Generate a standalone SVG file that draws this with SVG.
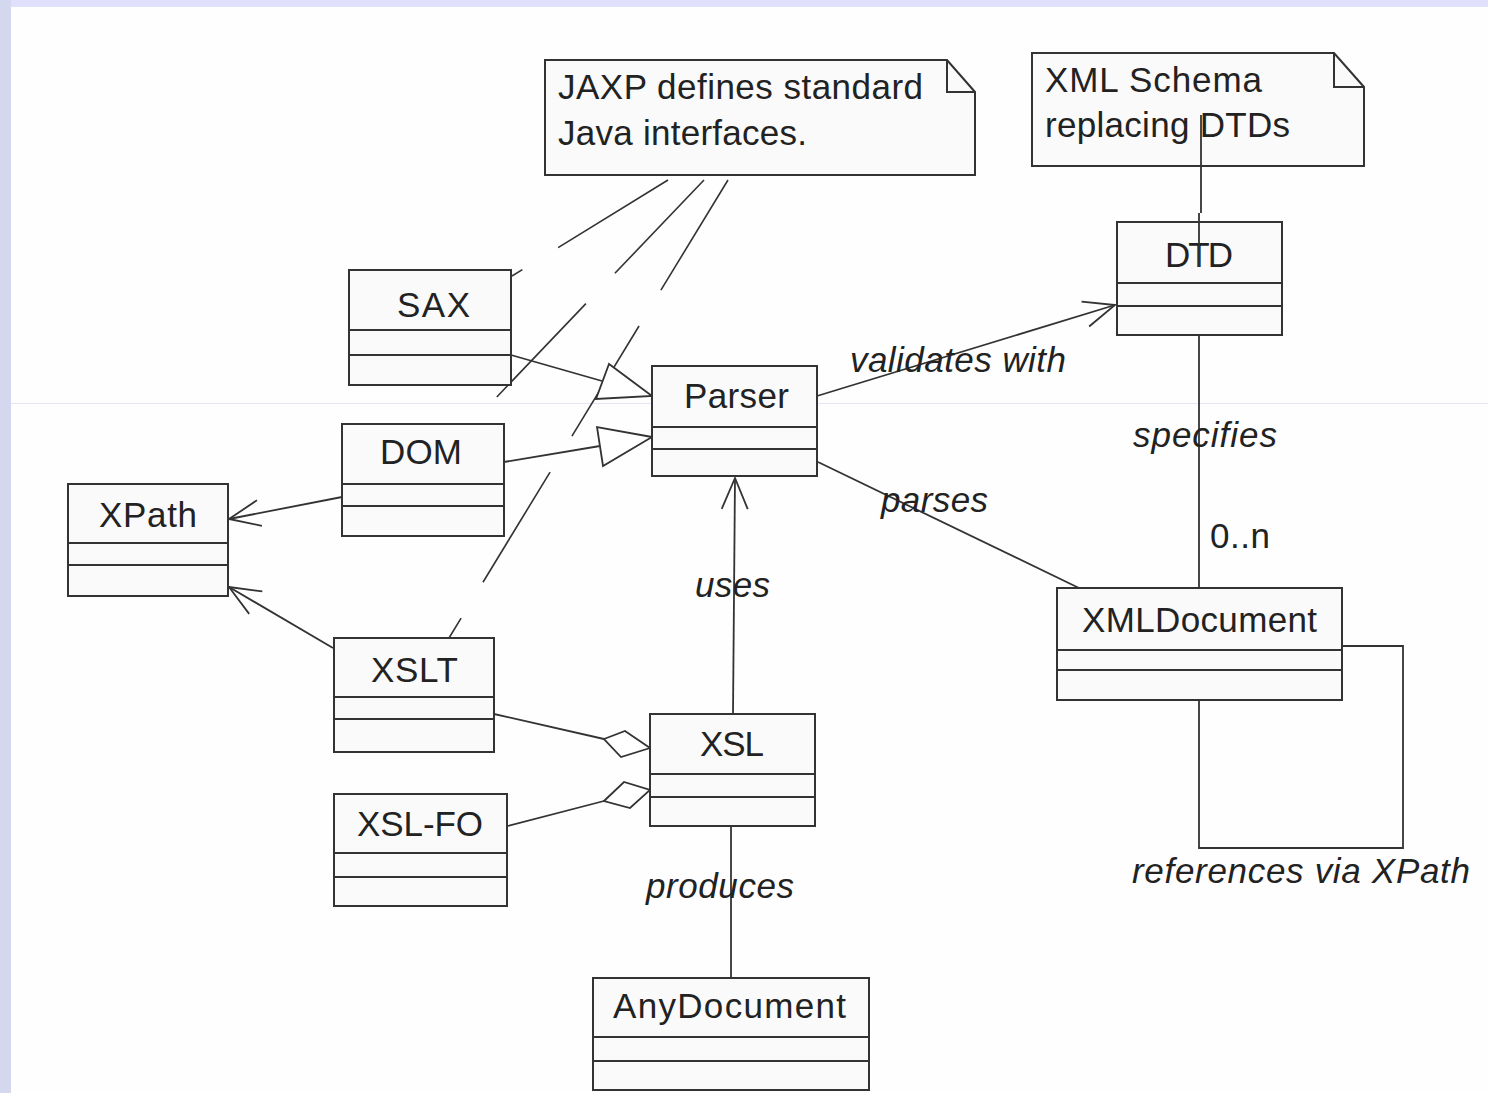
<svg xmlns="http://www.w3.org/2000/svg" width="1488" height="1093" viewBox="0 0 1488 1093">
  <style>
    .cls { fill: #fafafa; stroke: #333; stroke-width: 2; }
    .div { fill: none; stroke: #333; stroke-width: 2; }
    .note { fill: #fafafa; stroke: #333; stroke-width: 2; }
    .name { font-family: "Liberation Sans", Arial, sans-serif; font-size: 35px; fill: #222; }
    .lbl { font-family: "Liberation Sans", Arial, sans-serif; font-size: 35px; font-style: italic; fill: #222; }
    .mult { font-family: "Liberation Sans", Arial, sans-serif; font-size: 35px; fill: #222; }
    .ln { fill: none; stroke: #333; stroke-width: 1.8; }
    .anchor { fill: none; stroke: #333; stroke-width: 1.6; stroke-dasharray: 129 42; }
    .tri { fill: #fff; stroke: #333; stroke-width: 1.8; }
    .dia { fill: #fff; stroke: #333; stroke-width: 1.8; }
  </style>
  <defs>
    <marker id="open" markerUnits="userSpaceOnUse" viewBox="-36 -18 40 36" markerWidth="40" markerHeight="36" refX="0" refY="0" orient="auto">
      <path d="M -31 -13 L 0 0 L -31 13" fill="none" stroke="#333" stroke-width="1.8"/>
    </marker>
  </defs>

  <!-- page background with framed edges -->
  <rect x="0" y="0" width="1488" height="1093" fill="#fefefe"/>
  <rect x="0" y="0" width="1488" height="7" fill="#e0e0fd"/>
  <rect x="0" y="0" width="11" height="1093" fill="#d3d8ef"/>
  <line x1="11" y1="403.5" x2="1488" y2="403.5" stroke="#e6e6f2" stroke-width="1"/>

  <!-- connectors -->
  <g id="connectors">
    <!-- note anchors -->
    <line class="anchor" x1="668" y1="180" x2="512" y2="276"/>
    <line class="anchor" x1="704" y1="180" x2="471" y2="424"/>
    <line class="anchor" x1="728" y1="180" x2="449" y2="638"/>
    <path class="ln" d="M1201 115 V213 M1199 213 V267"/>

    <!-- generalizations into Parser -->
    <line class="ln" x1="511" y1="355" x2="602" y2="381"/>
    <polygon class="tri" points="652,396 609,364 596,399"/>
    <line class="ln" x1="504" y1="462" x2="600" y2="446"/>
    <polygon class="tri" points="652,437 597,427 603,466"/>

    <!-- navigable associations -->
    <line class="ln" x1="342" y1="497" x2="229" y2="519" marker-end="url(#open)"/>
    <line class="ln" x1="333" y1="648" x2="229" y2="587" marker-end="url(#open)"/>
    <line class="ln" x1="817" y1="396" x2="1115" y2="305" marker-end="url(#open)"/>
    <line class="ln" x1="733" y1="714" x2="735" y2="478" marker-end="url(#open)"/>

    <!-- plain associations -->
    <line class="ln" x1="818" y1="462" x2="1079" y2="588"/>
    <line class="ln" x1="1199" y1="335" x2="1199" y2="588"/>
    <path class="ln" d="M1342 646 H1403 V848 H1199 V700"/>
    <line class="ln" x1="731" y1="826" x2="731" y2="978"/>

    <!-- aggregations into XSL -->
    <line class="ln" x1="494" y1="714" x2="604" y2="739"/>
    <polygon class="dia" points="604,739 625,731 650,748 621,757"/>
    <line class="ln" x1="508" y1="826" x2="604" y2="801"/>
    <polygon class="dia" points="604,801 624,782 650,790 630,808"/>

    <!-- association labels -->
    <text class="lbl" x="850" y="372" textLength="216">validates with</text>
    <text class="lbl" x="881" y="512" textLength="107">parses</text>
    <text class="lbl" x="1133" y="447" textLength="144">specifies</text>
    <text class="mult" x="1210" y="548" textLength="60">0..n</text>
    <text class="lbl" x="695" y="597" textLength="75">uses</text>
    <text class="lbl" x="646" y="898" textLength="148">produces</text>
    <text class="lbl" x="1132" y="883" textLength="338">references via XPath</text>
  </g>

  <!-- notes -->
  <g id="note-jaxp">
    <path class="note" d="M545 60 H947 L975 92 V175 H545 Z"/>
    <path class="div" d="M947 60 V92 H975"/>
    <text class="name" x="558" y="99" textLength="365">JAXP defines standard</text>
    <text class="name" x="558" y="145" textLength="249">Java interfaces.</text>
  </g>
  <g id="note-schema">
    <path class="note" d="M1032 53 H1334 L1364 87 V166 H1032 Z"/>
    <path class="div" d="M1334 53 V87 H1364"/>
    <text class="name" x="1045" y="92" textLength="217">XML Schema</text>
    <text class="name" x="1045" y="137" textLength="245">replacing DTDs</text>
  </g>
  <!-- the anchor line runs over the note text -->
  <line class="ln" x1="1201" y1="115" x2="1201" y2="166"/>

  <!-- classes -->
  <g id="sax">
    <rect class="cls" x="349" y="270" width="162" height="115"/>
    <path class="div" d="M349 330 H511 M349 355 H511"/>
    <text class="name" x="397" y="317" textLength="73">SAX</text>
  </g>
  <g id="dom">
    <rect class="cls" x="342" y="424" width="162" height="112"/>
    <path class="div" d="M342 484 H504 M342 506 H504"/>
    <text class="name" x="380" y="464" textLength="82">DOM</text>
  </g>
  <g id="xpath">
    <rect class="cls" x="68" y="484" width="160" height="112"/>
    <path class="div" d="M68 543 H228 M68 565 H228"/>
    <text class="name" x="99" y="527" textLength="98">XPath</text>
  </g>
  <g id="xslt">
    <rect class="cls" x="334" y="638" width="160" height="114"/>
    <path class="div" d="M334 697 H494 M334 719 H494"/>
    <text class="name" x="371" y="682" textLength="87">XSLT</text>
  </g>
  <g id="parser">
    <rect class="cls" x="652" y="366" width="165" height="110"/>
    <path class="div" d="M652 427 H817 M652 449 H817"/>
    <text class="name" x="684" y="408" textLength="105">Parser</text>
  </g>
  <g id="dtd">
    <rect class="cls" x="1117" y="222" width="165" height="113"/>
    <path class="div" d="M1117 283 H1282 M1117 306 H1282"/>
    <text class="name" x="1165" y="267" textLength="68">DTD</text>
  </g>
  <g id="xmldocument">
    <rect class="cls" x="1057" y="588" width="285" height="112"/>
    <path class="div" d="M1057 650 H1342 M1057 670 H1342"/>
    <text class="name" x="1082" y="632" textLength="235">XMLDocument</text>
  </g>
  <g id="xsl">
    <rect class="cls" x="650" y="714" width="165" height="112"/>
    <path class="div" d="M650 774 H815 M650 797 H815"/>
    <text class="name" x="700" y="756" textLength="64">XSL</text>
  </g>
  <g id="xsl-fo">
    <rect class="cls" x="334" y="794" width="173" height="112"/>
    <path class="div" d="M334 853 H507 M334 877 H507"/>
    <text class="name" x="357" y="836" textLength="126">XSL-FO</text>
  </g>
  <g id="anydocument">
    <rect class="cls" x="593" y="978" width="276" height="112"/>
    <path class="div" d="M593 1037 H869 M593 1061 H869"/>
    <text class="name" x="613" y="1018" textLength="233">AnyDocument</text>
  </g>
  <!-- anchor line drawn over the DTD title -->
  <line class="ln" x1="1199" y1="222" x2="1199" y2="267"/>
</svg>
